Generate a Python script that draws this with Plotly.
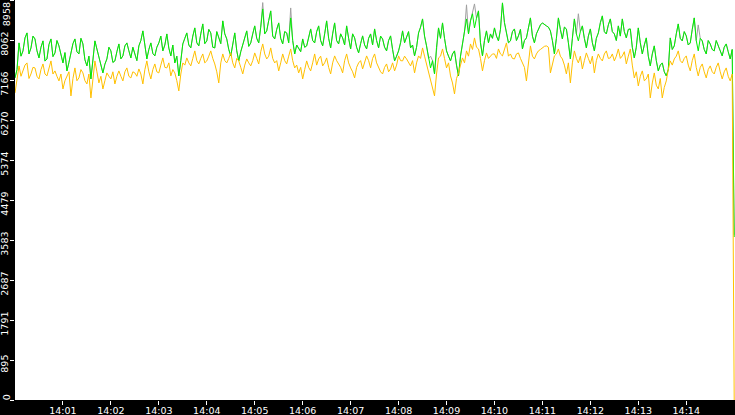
import pandas as pd
import plotly.graph_objects as go

# samples every 2.5 s from 14:00:00, the last sample at 14:15:00 is the drop-off
green_values = [
    7213, 7400, 7997, 7700, 7818, 8110, 8221, 7750, 7885, 8150, 8086, 7820, 7661, 7900, 8042,
    7590, 7638, 7960, 8086, 7690, 7773, 8050, 7930, 7700, 7549, 7780, 7370, 7560, 7750, 7980,
    8086, 7800, 7750, 8100, 7974, 7620, 7482, 7700, 7190, 7620, 8042, 7860, 7661, 7500, 7325,
    7520, 7638, 7900, 7818, 7560, 7594, 7800, 7974, 7640, 7706, 7930, 7997, 7820, 7661, 7900,
    7773, 7600, 7930, 8050, 8266, 7900, 7638, 7850, 7997, 7760, 7706, 7900, 7997, 8150, 7818,
    7950, 8198, 7880, 7706, 7950, 7549, 7700, 7258, 7600, 7974, 8100, 8221, 7950, 7885, 8150,
    8333, 8000, 7930, 8200, 8422, 7980, 8042, 8300, 8221, 7900, 7885, 8250, 8109, 7980, 8490,
    8200, 8086, 7850, 7706, 7980, 8221, 7820, 7594, 7800, 7974, 8150, 8266, 7920, 7997, 8200,
    8378, 8100, 7997, 8350, 8758, 8200, 8266, 8500, 8714, 8150, 8086, 8300, 8445, 8100, 7974,
    8250, 8221, 8000, 8557, 8050, 7750, 7950, 7862, 7800, 8086, 7900, 7930, 8150, 8310, 8050,
    7997, 8250, 8378, 8050, 7930, 8200, 8490, 8100, 7885, 8200, 8445, 8050, 7974, 8200, 8109,
    7950, 8378, 8100, 7862, 8200, 8109, 7900, 7773, 7980, 8154, 7950, 7862, 8100, 8198, 7950,
    8310, 8050, 7885, 8150, 8086, 7900, 7818, 8050, 8154, 7850, 7594, 7700, 7818, 8000, 8266,
    8000, 8109, 8250, 7885, 7950, 7706, 7900, 8221, 8350, 8534, 8150, 7930, 7650, 7437, 7600,
    7302, 7900, 8333, 8100, 8445, 8100, 7818, 7700, 7594, 7750, 7818, 7500, 7258, 7700, 7974,
    8250, 8534, 8200, 8490, 8650, 8333, 8550, 8714, 8000, 7706, 8050, 8266, 8000, 8198, 8100,
    8333, 8150, 8042, 8300, 8893, 8450, 8221, 8000, 8042, 8250, 8310, 8050, 8154, 8300, 7862,
    8050, 8109, 8350, 8557, 8150, 7997, 8200, 8310, 8400, 8445, 8400, 8378, 8350, 8266, 8050,
    7750, 8100, 8557, 8300, 8086, 8350, 8310, 8000, 7638, 8100, 8534, 8200, 8042, 8250, 8378,
    8100, 7885, 8150, 8310, 8000, 7818, 8100, 8221, 8450, 8602, 8250, 8198, 8400, 8534, 8250,
    8198, 8050, 8378, 8150, 8534, 8250, 8109, 8300, 8310, 7900, 7661, 7900, 8333, 8000, 7750,
    7950, 8109, 7700, 7482, 7750, 7930, 7600, 7370, 7500, 7549, 7350, 7258, 7400, 8109, 7850,
    7930, 8200, 8422, 8100, 8042, 8250, 8154, 7950, 7997, 8300, 8557, 8050, 7818, 8100, 8042,
    7850, 7750, 8050, 7974, 7850, 7818, 8050, 7930, 7800, 7706, 7900, 7974, 7800, 7638, 7850,
    3650,
]

gray_values = [
    7213, 7400, 7997, 7700, 7818, 8110, 8221, 7750, 7885, 8150, 8086, 7820, 7661, 7900, 8042,
    7590, 7638, 7960, 8086, 7690, 7773, 8050, 7930, 7700, 7549, 7780, 7370, 7560, 7750, 7980,
    8086, 7800, 7750, 8100, 7974, 7620, 7482, 7700, 7190, 7620, 8042, 7860, 7661, 7500, 7325,
    7520, 7638, 7900, 7818, 7560, 7594, 7800, 7974, 7640, 7706, 7930, 7997, 7820, 7661, 7900,
    7773, 7600, 7930, 8050, 8266, 7900, 7638, 7850, 7997, 7760, 7706, 7900, 7997, 8150, 7818,
    7950, 8198, 7880, 7706, 7950, 7549, 7700, 7258, 7600, 7974, 8100, 8221, 7950, 7885, 8150,
    8333, 8000, 7930, 8200, 8422, 7980, 8042, 8300, 8221, 7900, 7885, 8250, 8109, 7980, 8490,
    8200, 8086, 7850, 7706, 7980, 8221, 7820, 7594, 7800, 7974, 8150, 8266, 7920, 7997, 8200,
    8378, 8100, 7997, 8350, 8900, 8200, 8266, 8500, 8714, 8150, 8086, 8300, 8445, 8100, 7974,
    8250, 8221, 8000, 8780, 8050, 7750, 7950, 7862, 7800, 8086, 7900, 7930, 8150, 8310, 8050,
    7997, 8250, 8378, 8050, 7930, 8200, 8490, 8100, 7885, 8200, 8445, 8050, 7974, 8200, 8109,
    7950, 8378, 8100, 7862, 8200, 8109, 7900, 7773, 7980, 8154, 7950, 7862, 8100, 8198, 7950,
    8310, 8050, 7885, 8150, 8086, 7900, 7818, 8050, 8154, 7850, 7594, 7700, 7818, 8000, 8266,
    8000, 8109, 8250, 7885, 7950, 7706, 7900, 8221, 8350, 8534, 8150, 7930, 7650, 7700, 7600,
    7302, 7900, 8333, 8100, 8445, 8100, 7818, 7700, 7594, 7750, 7818, 7500, 7258, 7700, 7974,
    8250, 8850, 8200, 8490, 8650, 8870, 8550, 8714, 8000, 7706, 8050, 8266, 8000, 8198, 8100,
    8333, 8150, 8042, 8300, 8893, 8450, 8221, 8000, 8042, 8250, 8310, 8050, 8154, 8300, 7862,
    8050, 8109, 8350, 8557, 8150, 7997, 8200, 8310, 8400, 8445, 8400, 8378, 8350, 8266, 8050,
    7750, 8100, 8557, 8300, 8086, 8350, 8310, 8000, 7638, 8100, 8534, 8200, 8650, 8250, 8378,
    8100, 7885, 8150, 8310, 8000, 7818, 8100, 8221, 8450, 8602, 8250, 8198, 8400, 8534, 8250,
    8198, 8050, 8378, 8150, 8534, 8250, 8109, 8300, 8310, 7900, 7661, 7900, 8333, 8000, 7750,
    7950, 8109, 7700, 7482, 7750, 7930, 7600, 7370, 7500, 7549, 7350, 7258, 7400, 8109, 7850,
    7930, 8200, 8422, 8100, 8042, 8250, 8154, 7950, 7997, 8300, 8557, 8050, 8400, 8100, 8042,
    7850, 7750, 8050, 7974, 7850, 7818, 8050, 7930, 7800, 7706, 7900, 7974, 7800, 7638, 7850,
    3700,
]

orange_values = [
    6877, 7150, 7482, 7250, 7370, 7500, 7549, 7200, 7302, 7450, 7437, 7250, 7190, 7400, 7526,
    7300, 7258, 7450, 7594, 7300, 7370, 7250, 7146, 7300, 6966, 7150, 7258, 7350, 6810, 7200,
    7437, 7150, 7213, 7400, 7325, 7150, 7078, 7300, 6765, 7200, 7594, 7350, 7101, 7250, 6966,
    7150, 7325, 7250, 7190, 7350, 7078, 7250, 7370, 7250, 7146, 7350, 7437, 7250, 7213, 7350,
    7325, 7250, 7414, 7300, 7078, 7400, 7594, 7350, 7190, 7400, 7526, 7350, 7325, 7500, 7661,
    7450, 7437, 7550, 7258, 7400, 7325, 7150, 6922, 7300, 7549, 7500, 7661, 7550, 7482, 7650,
    7818, 7600, 7526, 7650, 7750, 7550, 7594, 7700, 7818, 7650, 7526, 7350, 7101, 7550, 7750,
    7600, 7549, 7650, 7773, 7550, 7437, 7650, 7594, 7450, 7302, 7500, 7638, 7550, 7482, 7600,
    7773, 7650, 7526, 7800, 7974, 7750, 7638, 7700, 7885, 7650, 7549, 7600, 7370, 7550, 7750,
    7600, 7526, 7700, 7862, 7600, 7437, 7500, 7325, 7450, 7190, 7400, 7594, 7450, 7370, 7550,
    7750, 7500, 7638, 7700, 7482, 7550, 7661, 7450, 7302, 7550, 7706, 7600, 7526, 7450, 7325,
    7600, 7750, 7550, 7437, 7350, 7213, 7450, 7549, 7600, 7414, 7550, 7706, 7600, 7437, 7650,
    7750, 7550, 7437, 7350, 7302, 7450, 7526, 7350, 7414, 7550, 7370, 7500, 7706, 7600, 7594,
    7700, 7638, 7550, 7482, 7600, 7325, 7550, 7706, 7650, 7885, 7700, 7526, 7350, 7146, 7000,
    6810, 7300, 7661, 7700, 7862, 7650, 7437, 7550, 7258, 7100, 6854, 7200, 7325, 7500, 7661,
    7550, 7818, 7700, 7974, 7850, 8109, 7900, 7862, 7650, 7370, 7600, 7773, 7650, 7706, 7750,
    7750, 7650, 7862, 7750, 7706, 7850, 7997, 7700, 7750, 7650, 7638, 7750, 7773, 7650, 7549,
    7450, 7146, 7600, 7930, 7700, 7638, 7750, 7818, 7850, 7885, 7920, 7930, 7900, 7325, 7550,
    7706, 7750, 7862, 7700, 7638, 7500, 7302, 7550, 7101, 7550, 7818, 7650, 7549, 7700, 7414,
    7600, 7773, 7650, 7526, 7700, 7325, 7600, 7750, 7650, 7594, 7750, 7818, 7650, 7661, 7750,
    7594, 7700, 7862, 7650, 7706, 7800, 7526, 7700, 7862, 7500, 7213, 7350, 7034, 7250, 7370,
    7150, 7190, 7300, 6765, 7100, 7325, 7050, 6966, 7200, 6765, 7000, 7146, 7400, 7594, 7500,
    7638, 7700, 7818, 7600, 7549, 7650, 7706, 7500, 7370, 7600, 7750, 7450, 7258, 7450, 7526,
    7350, 7213, 7400, 7482, 7350, 7302, 7450, 7549, 7350, 7190, 7350, 7437, 7250, 7146, 7300,
    0,
]

y_tick_values = [0, 895, 1791, 2687, 3583, 4479, 5374, 6270, 7166, 8062, 8958]
y_tick_labels = ['0', '895', '1791', '2687', '3583', '4479', '5374', '6270', '7166', '8062', '8958']
x_tick_labels = ['14:01', '14:02', '14:03', '14:04', '14:05', '14:06', '14:07',
                 '14:08', '14:09', '14:10', '14:11', '14:12', '14:13', '14:14']

times = pd.date_range('2024-01-01 14:00:00', periods=len(green_values), freq='2500ms')
x_ticks = [pd.Timestamp('2024-01-01 ' + t) for t in x_tick_labels]

fig = go.Figure()
for values, colour in [(gray_values, '#a0a0a0'),
                       (green_values, '#00ee00'),
                       (orange_values, '#ffc000')]:
    fig.add_trace(go.Scatter(
        x=times, y=values, mode='lines',
        line=dict(color=colour, width=1),
        hoverinfo='skip', showlegend=False,
    ))

# end labels are kept inside the strip, the rest hang just below their tick
for label, pos in [(y_tick_labels[0], 60), (y_tick_labels[-1], 8640)]:
    fig.add_annotation(
        x=0, xref='paper', xshift=-9, y=pos, yref='y',
        text=label, textangle=-90, showarrow=False,
        xanchor='center', yanchor='middle',
        font=dict(family='DejaVu Sans', size=9.5, color='white'),
    )

fig.update_layout(
    width=735, height=415,
    margin=dict(l=15, r=0, t=0, b=15),
    paper_bgcolor='black',
    plot_bgcolor='white',
    font=dict(family='DejaVu Sans', size=9.5, color='white'),
    xaxis=dict(
        range=[pd.Timestamp('2024-01-01 14:00:00'), pd.Timestamp('2024-01-01 14:15:01')],
        tickvals=x_ticks, ticktext=x_tick_labels,
        ticks='outside', ticklen=4, tickcolor='white', tickwidth=1,
        ticklabelstandoff=-2, automargin=False,
        showgrid=False, zeroline=False, showline=False,
    ),
    yaxis=dict(
        range=[0, 8958],
        tickvals=y_tick_values, ticktext=['' if i in (0, len(y_tick_labels) - 1) else t
                                          for i, t in enumerate(y_tick_labels)],
        tickangle=-90, ticklabelshift=5, ticklabelstandoff=-2,
        ticks='outside', ticklen=4, tickcolor='white', tickwidth=1,
        automargin=False,
        showgrid=False, zeroline=False, showline=False,
    ),
)

# the page's default body margin would push the chart out of the window
fig.write_html("out.html", config={'displayModeBar': False},
               post_script="document.body.style.margin = '0';")
